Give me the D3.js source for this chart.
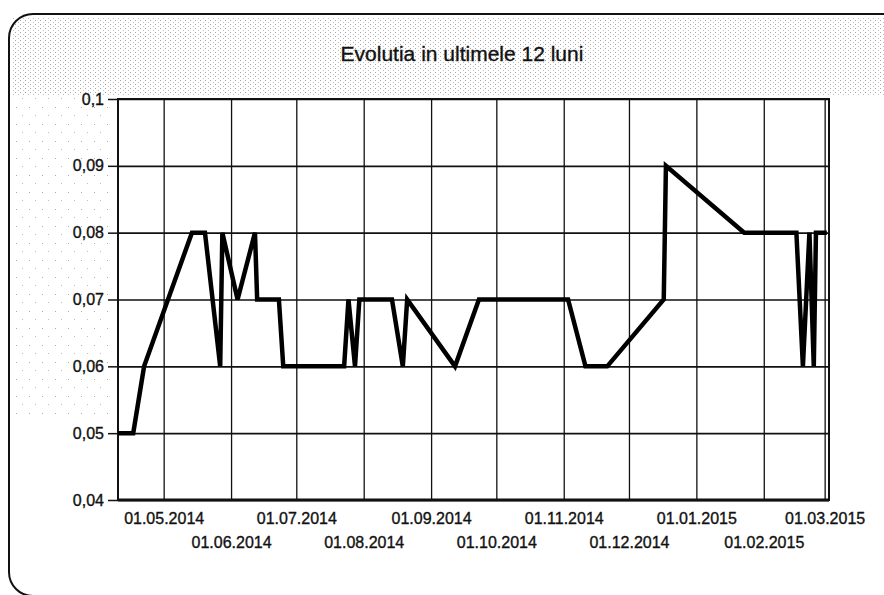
<!DOCTYPE html>
<html>
<head>
<meta charset="utf-8">
<script src="https://cdn.jsdelivr.net/npm/d3@7"></script>
<style>
  body { margin: 0; background: #fff; }
  text { font-family: "Liberation Sans", Arial, sans-serif; fill: #111; stroke: #111; stroke-width: 0.35; }
</style>
</head>
<body>
<svg id="chart" width="884" height="595"></svg>
<script>
// data
const dates = ["2014-04-10","2014-04-17","2014-04-22","2014-05-14","2014-05-20","2014-05-27","2014-05-28",
  "2014-06-04","2014-06-12","2014-06-13","2014-06-23","2014-06-25","2014-07-23","2014-07-25","2014-07-28",
  "2014-07-30","2014-08-14","2014-08-19","2014-08-21","2014-09-12","2014-09-23","2014-11-03","2014-11-11",
  "2014-11-21","2014-12-17","2014-12-18","2015-01-23","2015-02-16","2015-02-19","2015-02-22","2015-02-24",
  "2015-02-25","2015-03-02"];
const values = [0.05,0.05,0.06,0.08,0.08,0.06,0.08,
  0.07,0.08,0.07,0.07,0.06,0.06,0.07,0.06,
  0.07,0.07,0.06,0.07,0.06,0.07,0.07,0.06,
  0.06,0.07,0.09,0.08,0.08,0.06,0.08,0.06,
  0.08,0.08];
const yTicks = [0.04,0.05,0.06,0.07,0.08,0.09,0.1];
const xTicks = ["2014-05-01","2014-06-01","2014-07-01","2014-08-01","2014-09-01","2014-10-01",
  "2014-11-01","2014-12-01","2015-01-01","2015-02-01","2015-03-01"];
const xDomain = ["2014-04-10","2015-03-03"];
const title = "Evolutia in ultimele 12 luni";

const parse = d3.timeParse("%Y-%m-%d");
const svg = d3.select("#chart");
const pLeft = 118, pRight = 829, pTop = 99, pBottom = 500;

// scan halftone background
const defs = svg.append("defs");
const pat = defs.append("pattern").attr("id", "dots").attr("width", 5).attr("height", 4)
  .attr("patternUnits", "userSpaceOnUse");
pat.append("rect").attr("x", 0).attr("y", 0).attr("width", 1).attr("height", 1).attr("fill", "#a5a5a5");
pat.append("rect").attr("x", 3).attr("y", 2).attr("width", 1).attr("height", 1).attr("fill", "#c0c0c0");
const pat2 = defs.append("pattern").attr("id", "sparse").attr("width", 13).attr("height", 17)
  .attr("patternUnits", "userSpaceOnUse");
pat2.append("rect").attr("x", 3).attr("y", 5).attr("width", 1).attr("height", 1).attr("fill", "#aaa");
pat2.append("rect").attr("x", 9).attr("y", 13).attr("width", 1).attr("height", 1).attr("fill", "#bbb");

svg.append("rect").attr("x", 12).attr("y", 17).attr("width", 872).attr("height", 78).attr("fill", "url(#dots)");
svg.append("rect").attr("x", 12).attr("y", 95).attr("width", 100).attr("height", 320).attr("fill", "url(#sparse)");

// rounded frame of the scanned panel
svg.append("rect").attr("x", 9).attr("y", 14).attr("width", 930).attr("height", 582).attr("rx", 24)
  .attr("fill", "none").attr("stroke", "#111").attr("stroke-width", 2);

const x = d3.scaleTime().domain(xDomain.map(parse)).range([pLeft, pRight]);
const y = d3.scaleLinear().domain([0.04, 0.1]).range([pBottom, pTop]);

// plot area
svg.append("rect").attr("x", pLeft).attr("y", pTop).attr("width", pRight - pLeft).attr("height", pBottom - pTop)
  .attr("fill", "#fff");

// grid
svg.append("g").attr("transform", `translate(0,${pBottom})`)
  .call(d3.axisBottom(x).tickValues(xTicks.map(parse)).tickSize(-(pBottom - pTop)).tickFormat(""))
  .call(g => g.select(".domain").remove())
  .call(g => g.selectAll("line").attr("stroke", "#111").attr("stroke-width", 1.3));
svg.append("g").attr("transform", `translate(${pLeft},0)`)
  .call(d3.axisLeft(y).tickValues(yTicks).tickSize(-(pRight - pLeft)).tickFormat(""))
  .call(g => g.select(".domain").remove())
  .call(g => g.selectAll("line").attr("stroke", "#111").attr("stroke-width", 1.6));

// frame
svg.append("rect").attr("x", pLeft).attr("y", pTop).attr("width", pRight - pLeft).attr("height", pBottom - pTop)
  .attr("fill", "none").attr("stroke", "#111").attr("stroke-width", 2);
svg.append("line").attr("x1", pLeft).attr("x2", pRight).attr("y1", pBottom).attr("y2", pBottom)
  .attr("stroke", "#111").attr("stroke-width", 3);

// y axis
const loc = d3.formatLocale({decimal: ",", thousands: ".", grouping: [3], currency: ["", ""]});
const yFmt = loc.format("~g");
svg.append("g").attr("transform", `translate(${pLeft},0)`)
  .call(d3.axisLeft(y).tickValues(yTicks).tickSize(10).tickPadding(4).tickFormat(yFmt))
  .call(g => g.select(".domain").remove())
  .call(g => g.selectAll("line").attr("stroke", "#111").attr("stroke-width", 1.5))
  .call(g => g.selectAll("text").attr("font-size", 16).style("font-family", "Liberation Sans, Arial, sans-serif"));

// x axis, labels staggered in two rows
const xFmt = d3.timeFormat("%d.%m.%Y");
svg.append("g").attr("transform", `translate(0,${pBottom})`)
  .call(d3.axisBottom(x).tickValues(xTicks.map(parse)).tickSize(0).tickPadding(0).tickFormat(xFmt))
  .call(g => g.select(".domain").remove())
  .call(g => g.selectAll("text").attr("font-size", 16).attr("dy", null)
    .style("font-family", "Liberation Sans, Arial, sans-serif")
    .attr("y", (d, i) => i % 2 === 0 ? 24 : 48));

// series
const pts = dates.map((d, i) => [parse(d), values[i]]);
svg.append("path").datum(pts)
  .attr("d", d3.line().x(d => x(d[0])).y(d => y(d[1])))
  .attr("fill", "none").attr("stroke", "#000").attr("stroke-width", 4.5)
  .attr("stroke-linejoin", "miter").attr("stroke-miterlimit", 3);

// title
svg.append("text").attr("x", 462).attr("y", 61).attr("text-anchor", "middle")
  .attr("font-size", 21).text(title);
</script>
</body>
</html>
